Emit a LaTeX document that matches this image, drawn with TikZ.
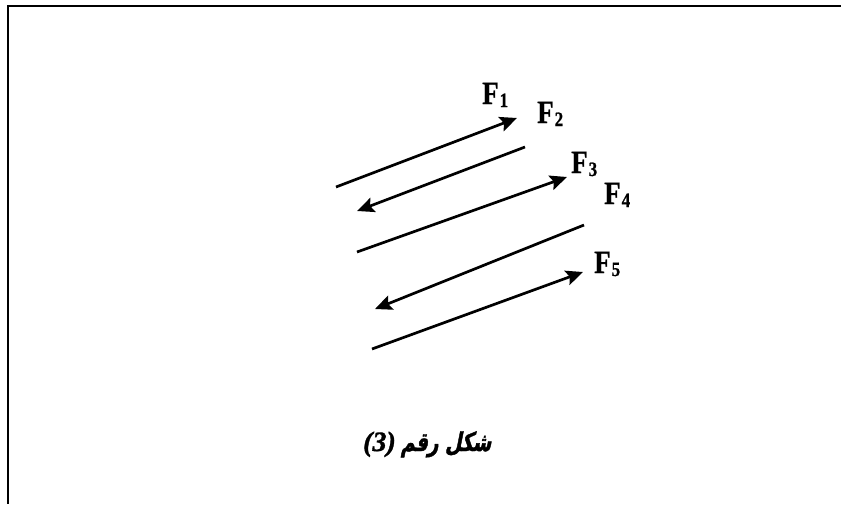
\documentclass[tikz,border=0pt]{standalone}
\usepackage{fontspec}
\setmainfont{Liberation Serif}[BoldFeatures={FakeBold=0.8},BoldItalicFeatures={FakeBold=1.2}]
\newfontfamily\arabicfont[Script=Arabic, FakeSlant=0.2, FakeStretch=0.72, FakeBold=1.5]{DejaVu Sans}
\TeXXeTstate=1
\usetikzlibrary{arrows.meta}
\newcommand{\flabel}[1]{\scalebox{1}[1.2]{F\hspace{1pt}\raisebox{-2.5pt}{\fontsize{17}{17}\selectfont #1}}}
\begin{document}
\begin{tikzpicture}[x=1pt,y=1pt,
  force/.style={line width=2.7pt, line cap=butt, -{Stealth[length=17pt,width=15pt,inset=3pt]}},
  lbl/.style={anchor=base west, inner sep=0pt, font=\bfseries\fontsize{27}{27}\selectfont},
  frameline/.style={line width=2pt}]
\useasboundingbox (0,0) rectangle (841,-504);
% frame (top and left edges)
\coordinate (ftr) at (841,-6);
\coordinate (ftl) at (8,-6);
\coordinate (fbl) at (8,-504);
\draw[frameline] (ftr) -- (ftl) -- (fbl);
% arrow end points
\coordinate (a1s) at (336,-187); \coordinate (a1e) at (517,-118);
\coordinate (a2s) at (525,-147); \coordinate (a2e) at (357,-211);
\coordinate (a3s) at (357,-252); \coordinate (a3e) at (567,-177);
\coordinate (a4s) at (584,-225); \coordinate (a4e) at (375,-309);
\coordinate (a5s) at (372,-349); \coordinate (a5e) at (583,-272);
\draw[force] (a1s) -- (a1e);
\draw[force] (a2s) -- (a2e);
\draw[force] (a3s) -- (a3e);
\draw[force] (a4s) -- (a4e);
\draw[force] (a5s) -- (a5e);
% labels
\node[lbl] (f1) at (482,-104) {\flabel{1}};
\node[lbl] (f2) at (537,-123) {\flabel{2}};
\node[lbl] (f3) at (571,-173) {\flabel{3}};
\node[lbl] (f4) at (604,-204) {\flabel{4}};
\node[lbl] (f5) at (594,-273) {\flabel{5}};
% caption
\node[anchor=base west, inner sep=0pt] (cap) at (363,-451)
  {\bfseries\itshape\fontsize{28}{28}\selectfont (3)\hspace{5pt}{\upshape\arabicfont\fontsize{26}{26}\selectfont\beginR شكل رقم\endR}};
\end{tikzpicture}
\end{document}
